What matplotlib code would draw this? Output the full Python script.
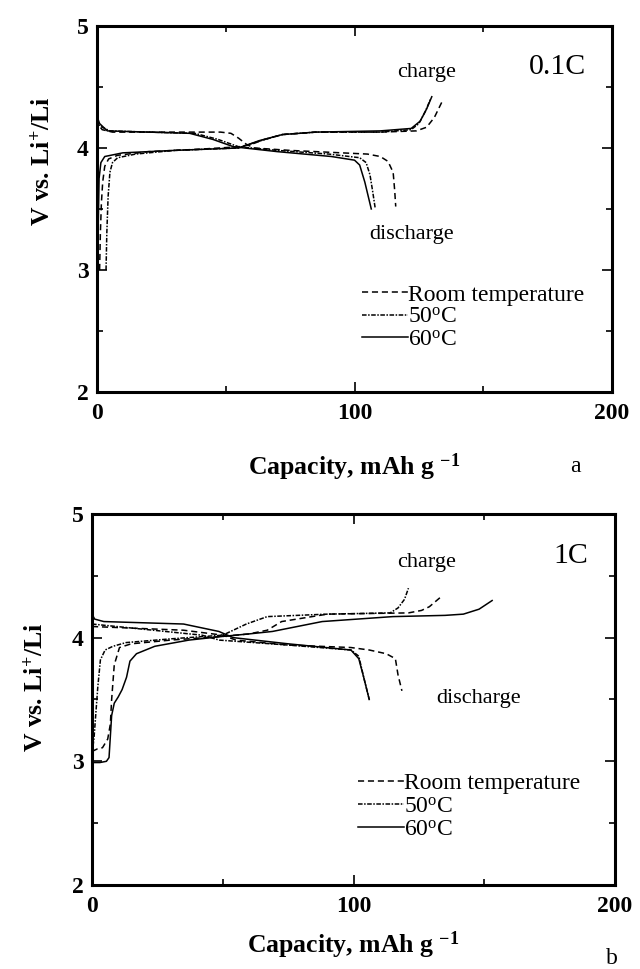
import numpy as np
import matplotlib
matplotlib.use("Agg")
import matplotlib.pyplot as plt
from matplotlib.ticker import MultipleLocator

plt.rcParams['font.family'] = ['Liberation Serif', 'DejaVu Serif']
plt.rcParams['mathtext.fontset'] = 'custom'
plt.rcParams['mathtext.rm'] = 'Liberation Serif'
plt.rcParams['mathtext.it'] = 'Liberation Serif:italic'
plt.rcParams['mathtext.bf'] = 'Liberation Serif:bold'

# ---- panel a: 0.1C ----
a_rt_chg_x = [1.0, 1.3, 1.7, 2.2, 3.0, 4.5, 8, 20, 40, 55, 60, 65, 72, 85, 110, 124, 128, 131, 134]
a_rt_chg_y = [3.00, 3.30, 3.55, 3.72, 3.85, 3.91, 3.94, 3.97, 3.99, 4.01, 4.03, 4.07, 4.11, 4.13, 4.13, 4.14, 4.17, 4.25, 4.38]
a_50_chg_x = [3.5, 3.8, 4.3, 5.0, 6.0, 8, 15, 30, 55, 62, 72, 85, 110, 122, 125, 127.5, 129.5]
a_50_chg_y = [3.00, 3.30, 3.60, 3.80, 3.88, 3.92, 3.95, 3.98, 4.00, 4.05, 4.11, 4.13, 4.13, 4.15, 4.20, 4.30, 4.40]
a_60_chg_x = [0.3, 0.5, 0.8, 1.5, 3, 10, 30, 55, 63, 72, 85, 110, 122, 125.5, 128, 130]
a_60_chg_y = [3.00, 3.40, 3.75, 3.88, 3.93, 3.96, 3.98, 4.00, 4.06, 4.11, 4.13, 4.14, 4.16, 4.22, 4.32, 4.42]

a_rt_dis_x = [0, 0.5, 2, 6, 20, 48, 52, 55, 58, 61, 75, 95, 105, 110, 113, 115, 115.6, 116]
a_rt_dis_y = [4.24, 4.19, 4.15, 4.13, 4.13, 4.13, 4.12, 4.08, 4.03, 4.00, 3.98, 3.96, 3.95, 3.93, 3.89, 3.80, 3.65, 3.52]
a_50_dis_x = [0, 1, 5, 20, 38, 47, 55, 70, 90, 102, 104.5, 106, 107, 108]
a_50_dis_y = [4.24, 4.18, 4.14, 4.13, 4.12, 4.07, 4.01, 3.98, 3.95, 3.92, 3.88, 3.78, 3.65, 3.51]
a_60_dis_x = [0, 1, 4, 20, 36, 45, 53, 70, 91, 100, 102, 104, 106.5]
a_60_dis_y = [4.26, 4.20, 4.14, 4.13, 4.12, 4.07, 4.01, 3.97, 3.93, 3.90, 3.86, 3.72, 3.50]

# ---- panel b: 1C ----
b_rt_chg_x = [0, 2, 4, 6, 7, 7.5, 8.5, 10.5, 15, 30, 50, 60, 67, 72.5, 90, 121, 126, 129, 134]
b_rt_chg_y = [3.08, 3.10, 3.11, 3.18, 3.30, 3.50, 3.78, 3.92, 3.95, 3.98, 4.01, 4.03, 4.06, 4.13, 4.19, 4.20, 4.22, 4.25, 4.34]
b_50_chg_x = [0, 0.8, 1.5, 2.2, 3.2, 5, 8, 13, 30, 50, 59, 67, 90, 114, 117, 119.5, 121]
b_50_chg_y = [3.05, 3.20, 3.40, 3.60, 3.82, 3.90, 3.93, 3.96, 3.99, 4.02, 4.11, 4.17, 4.19, 4.20, 4.24, 4.31, 4.40]
b_60_chg_x = [0, 3, 5.5, 6.5, 7, 7.5, 8.5, 10, 11.5, 13.2, 14.5, 17, 24, 37, 50, 60, 69, 88, 115, 135, 142, 148, 153]
b_60_chg_y = [2.99, 2.99, 3.00, 3.03, 3.20, 3.37, 3.47, 3.52, 3.58, 3.68, 3.81, 3.87, 3.93, 3.98, 4.01, 4.03, 4.05, 4.13, 4.17, 4.18, 4.19, 4.23, 4.30]

b_rt_dis_x = [0, 35, 50, 55, 75, 99, 106, 112.5, 116, 117, 118.5]
b_rt_dis_y = [4.09, 4.06, 4.02, 3.98, 3.94, 3.92, 3.90, 3.87, 3.83, 3.70, 3.57]
b_50_dis_x = [0, 18.7, 42, 48.7, 75, 99, 102, 104, 106]
b_50_dis_y = [4.11, 4.07, 4.02, 3.98, 3.94, 3.90, 3.85, 3.67, 3.50]
b_60_dis_x = [0, 1, 4.5, 35, 48.5, 54, 75, 99, 102, 104, 106]
b_60_dis_y = [4.19, 4.15, 4.13, 4.11, 4.05, 4.00, 3.95, 3.90, 3.83, 3.67, 3.50]

labels = ['Room temperature', '50$^{\\rm o}$C', '60$^{\\rm o}$C']
styles = [(0, (4, 2.5)), (0, (3, 1, 1, 1)), '-']

fig = plt.figure(figsize=(6.4, 9.69), dpi=100)
ax_a = fig.add_axes([0.1516, 0.5955, 0.8047, 0.3777])
ax_b = fig.add_axes([0.1438, 0.0867, 0.8172, 0.3829])

panels = [
    (ax_a, [(a_rt_chg_x, a_rt_chg_y, a_rt_dis_x, a_rt_dis_y),
            (a_50_chg_x, a_50_chg_y, a_50_dis_x, a_50_dis_y),
            (a_60_chg_x, a_60_chg_y, a_60_dis_x, a_60_dis_y)]),
    (ax_b, [(b_rt_chg_x, b_rt_chg_y, b_rt_dis_x, b_rt_dis_y),
            (b_50_chg_x, b_50_chg_y, b_50_dis_x, b_50_dis_y),
            (b_60_chg_x, b_60_chg_y, b_60_dis_x, b_60_dis_y)]),
]

for ax, curves in panels:
    for (cx, cy, dx, dy), lab, ls in zip(curves, labels, styles):
        ax.plot(cx, cy, color='black', lw=1.1, ls=ls, label=lab)
        ax.plot(dx, dy, color='black', lw=1.1, ls=ls)
    ax.set_xlim(0, 200)
    ax.set_ylim(2, 5)
    ax.xaxis.set_major_locator(MultipleLocator(100))
    ax.xaxis.set_minor_locator(MultipleLocator(50))
    ax.yaxis.set_major_locator(MultipleLocator(1))
    ax.yaxis.set_minor_locator(MultipleLocator(0.5))
    ax.tick_params(which='both', direction='in', top=True, right=True, width=1.2)
    ax.tick_params(which='major', length=7, labelsize=17, pad=6)
    ax.tick_params(which='minor', length=4)
    ax.tick_params(axis='x', pad=8)
    for lbl in ax.get_xticklabels() + ax.get_yticklabels():
        lbl.set_fontweight('bold')
    for sp in ax.spines.values():
        sp.set_linewidth(2.2)
    ax.set_ylabel('V vs. Li$^{\\mathbf{+}}$/Li', fontsize=18.5, fontweight='bold')

ax_a.set_xlabel('Capacity, mAh g $^{\\mathbf{-1}}$', fontsize=18.5, fontweight='bold', labelpad=20)
ax_b.set_xlabel('Capacity, mAh g $^{\\mathbf{-1}}$', fontsize=18.5, fontweight='bold', labelpad=9)

ax_a.yaxis.set_label_coords(-0.082, 0.63)
ax_b.yaxis.set_label_coords(-0.086, 0.533)

ax_a.legend(loc='upper left', bbox_to_anchor=(0.515, 0.295), frameon=False, fontsize=17,
            handlelength=1.95, handletextpad=0.0, labelspacing=0.04, borderpad=0, borderaxespad=0)
ax_b.legend(loc='upper left', bbox_to_anchor=(0.509, 0.302), frameon=False, fontsize=17,
            handlelength=1.95, handletextpad=0.0, labelspacing=0.06, borderpad=0, borderaxespad=0)

ax_a.text(128, 4.62, 'charge', fontsize=16, ha='center', va='center')
ax_a.text(122, 3.29, 'discharge', fontsize=16, ha='center', va='center')
ax_a.text(179, 4.66, '0.1C', fontsize=21.5, ha='center', va='center')

ax_b.text(128, 4.61, 'charge', fontsize=16, ha='center', va='center')
ax_b.text(148, 3.51, 'discharge', fontsize=16, ha='center', va='center')
ax_b.text(183, 4.66, '1C', fontsize=21.5, ha='center', va='center')

fig.text(575 / 640, 1 - 467 / 969, 'a', fontsize=17, ha='center', va='center')
fig.text(612 / 640, 1 - 958 / 969, 'b', fontsize=17, ha='center', va='center')

fig.savefig('out.png', dpi=100)
